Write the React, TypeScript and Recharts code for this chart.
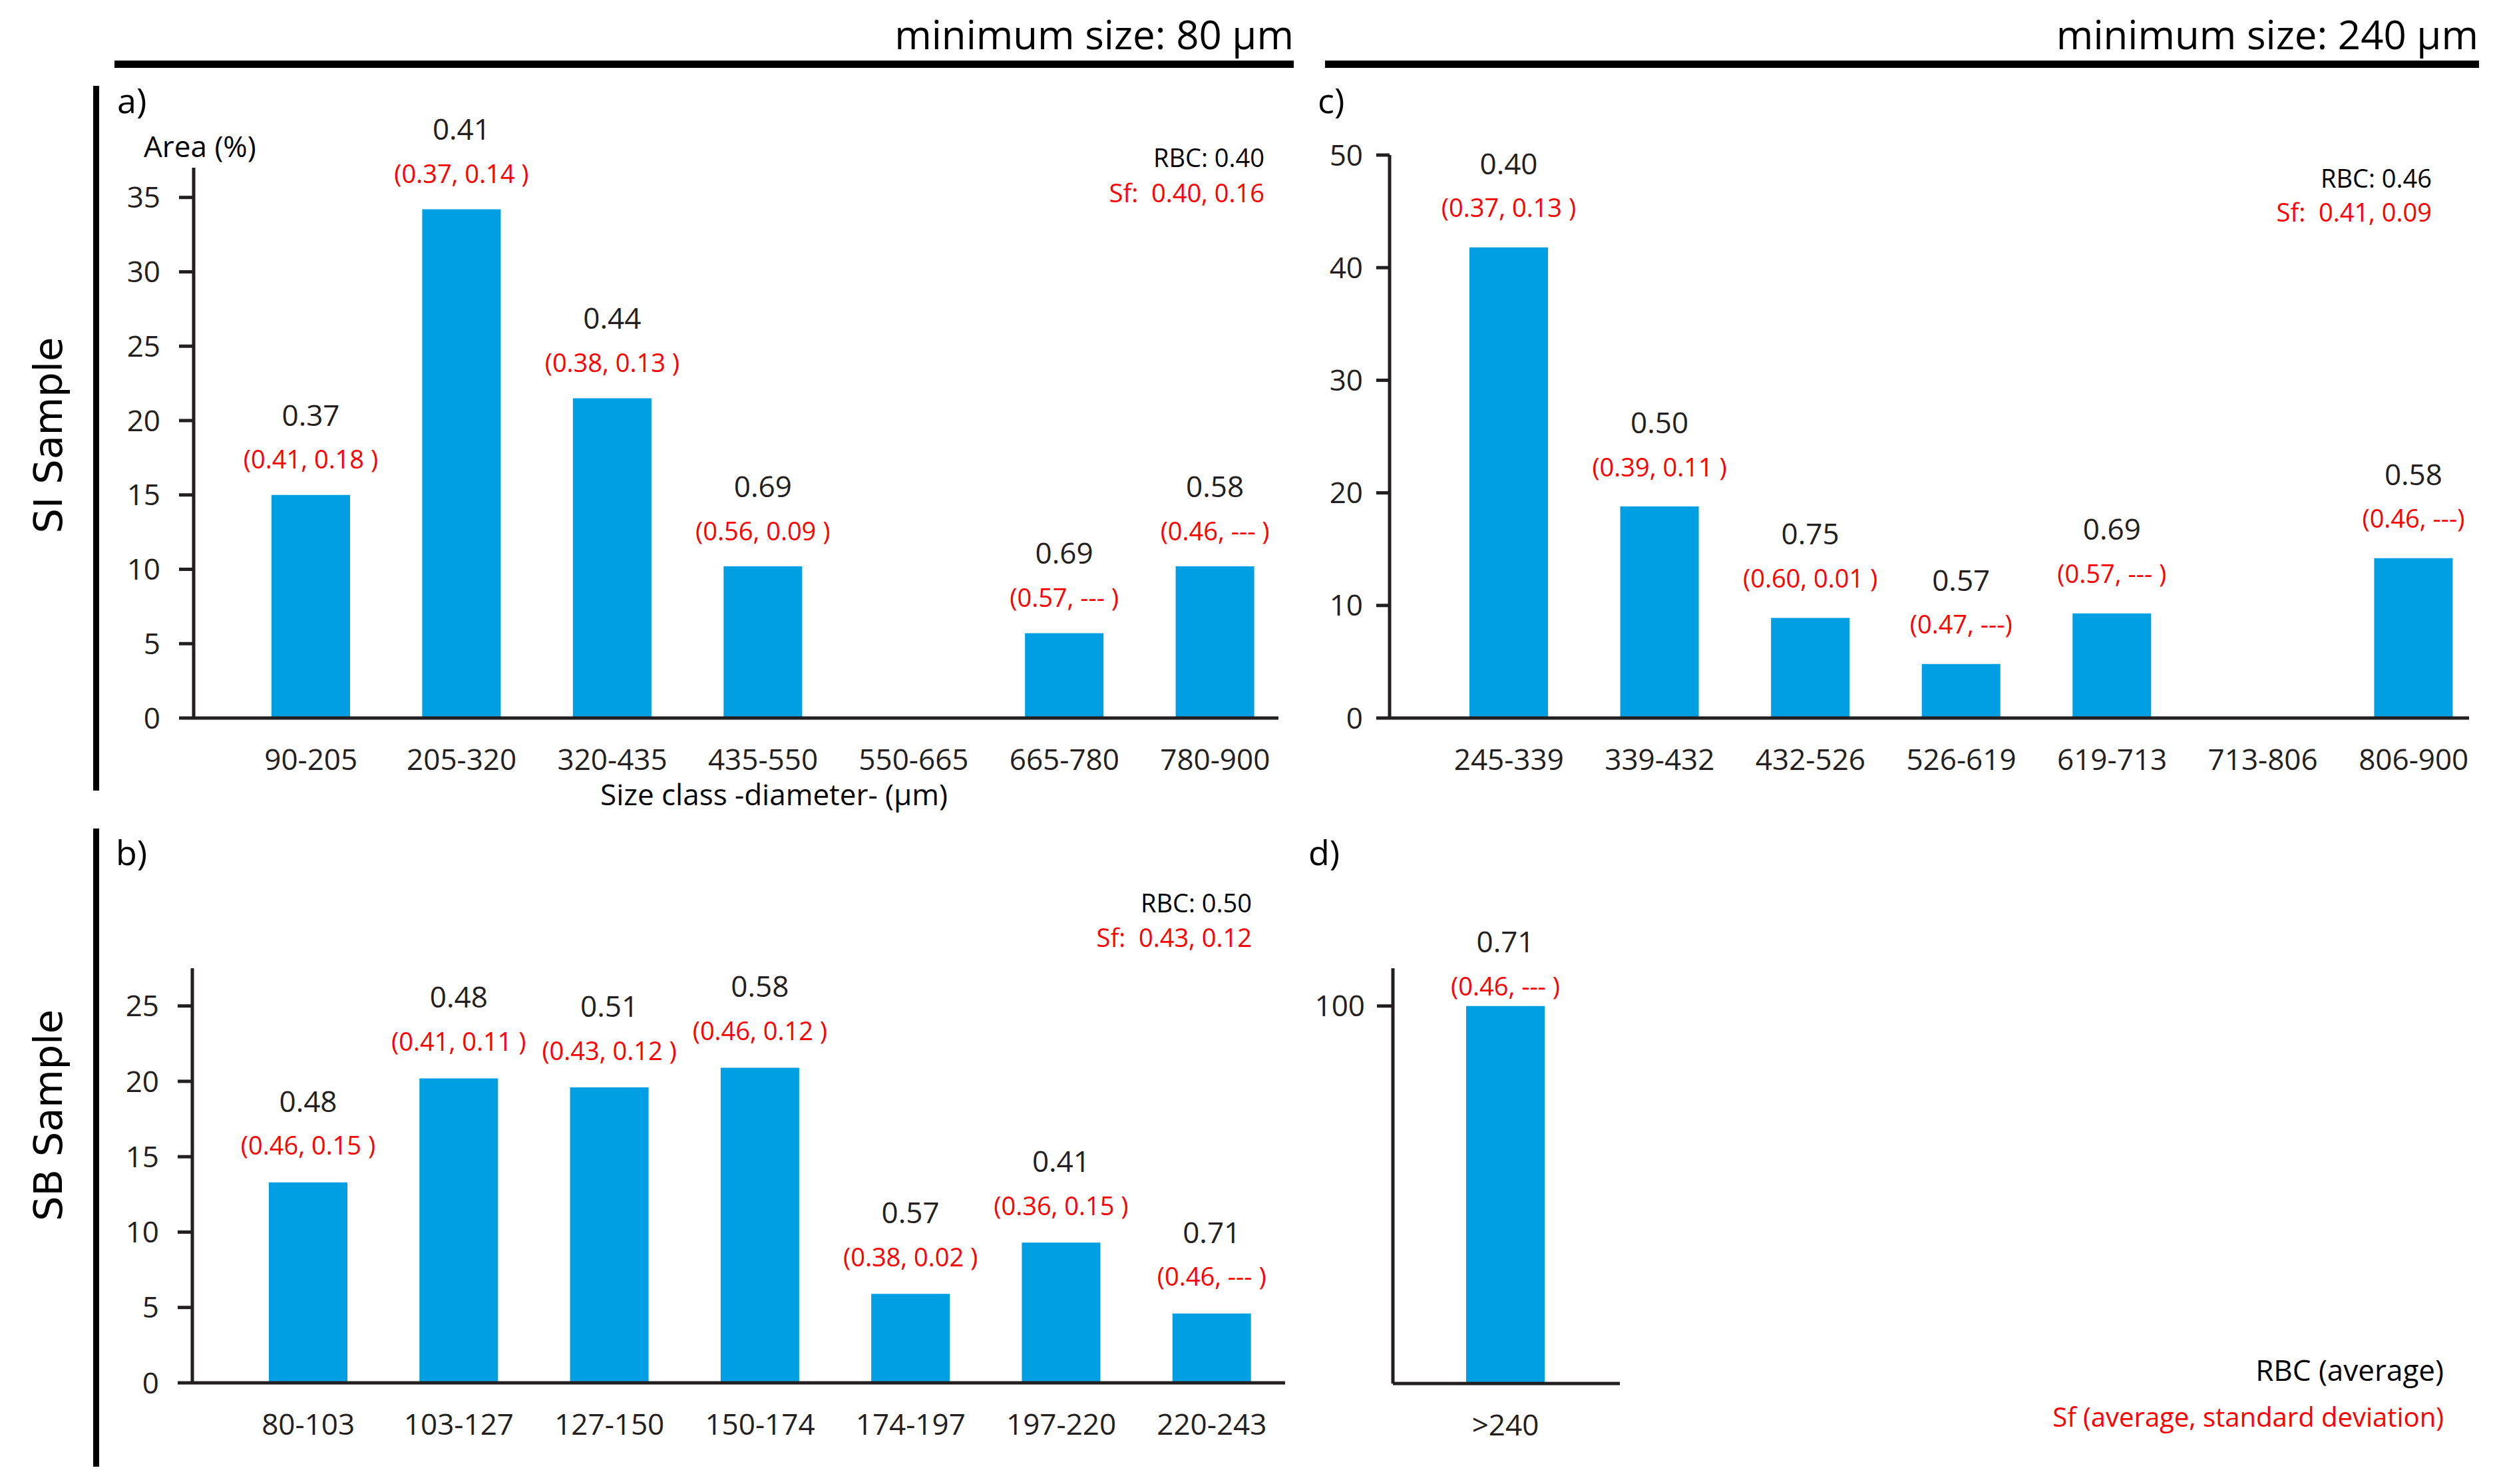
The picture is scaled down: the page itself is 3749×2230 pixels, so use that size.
import React from "react";
import { BarChart, Bar, XAxis, YAxis, LabelList } from "recharts";

const BLUE = "#009fe3";
const RED = "#ff0000";
const INK = "#231f20";
const FONT = "'Open Sans', 'Noto Sans', sans-serif";

// a) SI sample, minimum size 80 µm
const classesA = ["90-205", "205-320", "320-435", "435-550", "550-665", "665-780", "780-900"];
const areaA = [15.0, 34.2, 21.5, 10.2, 0, 5.7, 10.2];
const rbcA = ["0.37", "0.41", "0.44", "0.69", null, "0.69", "0.58"];
const sfA = ["(0.41, 0.18 )", "(0.37, 0.14 )", "(0.38, 0.13 )", "(0.56, 0.09 )", null, "(0.57, --- )", "(0.46, --- )"];
const ticksA = [0, 5, 10, 15, 20, 25, 30, 35];

// b) SB sample, minimum size 80 µm
const classesB = ["80-103", "103-127", "127-150", "150-174", "174-197", "197-220", "220-243"];
const areaB = [13.3, 20.2, 19.6, 20.9, 5.9, 9.3, 4.6];
const rbcB = ["0.48", "0.48", "0.51", "0.58", "0.57", "0.41", "0.71"];
const sfB = ["(0.46, 0.15 )", "(0.41, 0.11 )", "(0.43, 0.12 )", "(0.46, 0.12 )", "(0.38, 0.02 )", "(0.36, 0.15 )", "(0.46, --- )"];
const ticksB = [0, 5, 10, 15, 20, 25];

// c) SI sample, minimum size 240 µm
const classesC = ["245-339", "339-432", "432-526", "526-619", "619-713", "713-806", "806-900"];
const areaC = [41.8, 18.8, 8.9, 4.8, 9.3, 0, 14.2];
const rbcC = ["0.40", "0.50", "0.75", "0.57", "0.69", null, "0.58"];
const sfC = ["(0.37, 0.13 )", "(0.39, 0.11 )", "(0.60, 0.01 )", "(0.47, ---)", "(0.57, --- )", null, "(0.46, ---)"];
const ticksC = [0, 10, 20, 30, 40, 50];

// d) SB sample, minimum size 240 µm
const classesD = [">240"];
const areaD = [100];
const rbcD = ["0.71"];
const sfD = ["(0.46, --- )"];
const ticksD = [100];

type Row = { cls: string; area: number; rbc: string | null; sf: string | null };

function makeRows(classes: string[], area: number[], rbc: (string | null)[], sf: (string | null)[]): Row[] {
  return classes.map((c, i) => ({ cls: c, area: area[i], rbc: rbc[i], sf: sf[i] }));
}

// label text packed as "rbc|sf" so the label does not depend on the index
const labelKey = (r: Row) => (r.rbc ? `${r.rbc}|${r.sf}` : "");

type PanelProps = {
  rows: Row[];
  left: number;
  top: number;
  width: number;
  height: number;
  margin: { top: number; right: number; bottom: number; left: number };
  yWidth: number;
  domain: [number, number];
  ticks: number[];
  padding: { left: number; right: number };
  tickSize: number;
  tickMargin: number;
  redOff: number;
  blackOff: number;
};

function Panel(p: PanelProps) {
  const xTick = (t: any) => (
    <text x={t.x} y={t.y + 62} dy="0.36em" textAnchor="middle" fill={INK} fontSize={44} fontFamily={FONT}>
      {t.payload.value}
    </text>
  );

  const renderLabel = (lp: any) => {
    const v = typeof lp.value === "string" ? lp.value : "";
    if (!v) return null;
    const [rbc, sf] = v.split("|");
    const vb = lp.viewBox || lp;
    const x = Number(vb.x ?? lp.x);
    const y = Number(vb.y ?? lp.y);
    const w = Number(vb.width ?? lp.width);
    const cx = x + w / 2;
    return (
      <g>
        <text x={cx} y={y - p.blackOff} dy="0.36em" textAnchor="middle" fill={INK} fontSize={44} fontFamily={FONT}>
          {rbc}
        </text>
        <text x={cx} y={y - p.redOff} dy="0.36em" textAnchor="middle" fill={RED} fontSize={38} fontFamily={FONT} style={{ whiteSpace: "pre" }}>
          {sf}
        </text>
      </g>
    );
  };

  return (
    <div style={{ position: "absolute", left: p.left, top: p.top }}>
      <BarChart width={p.width} height={p.height} data={p.rows} margin={p.margin}>
        <XAxis
          dataKey="cls"
          interval={0}
          tick={xTick}
          tickLine={false}
          tickSize={0}
          tickMargin={0}
          height={80}
          padding={p.padding}
          axisLine={{ stroke: INK, strokeWidth: 5 }}
        />
        <YAxis
          type="number"
          domain={p.domain}
          ticks={p.ticks}
          interval={0}
          width={p.yWidth}
          allowDataOverflow
          tickSize={p.tickSize}
          tickMargin={p.tickMargin}
          tick={{ fill: INK, fontSize: 44, fontFamily: FONT }}
          tickLine={{ stroke: INK, strokeWidth: 5 }}
          axisLine={{ stroke: INK, strokeWidth: 5 }}
        />
        <Bar dataKey="area" fill={BLUE} barSize={118} isAnimationActive={false}>
          <LabelList dataKey={labelKey} content={renderLabel} />
        </Bar>
      </BarChart>
    </div>
  );
}

export default function App() {
  const rowsA = makeRows(classesA, areaA, rbcA, sfA);
  const rowsB = makeRows(classesB, areaB, rbcB, sfB);
  const rowsC = makeRows(classesC, areaC, rbcC, sfC);
  const rowsD = makeRows(classesD, areaD, rbcD, sfD);

  const pre = { whiteSpace: "pre" as const };

  return (
    <div style={{ position: "relative", width: 3749, height: 2230, background: "#fff", overflow: "hidden" }}>
      <style>{"body{margin:0}"}</style>

      <svg width={3749} height={2230} style={{ position: "absolute", left: 0, top: 0 }}>
        {/* headers */}
        <text x={1944} y={74} textAnchor="end" fontSize={60} fontFamily={FONT} fill="#000">minimum size: 80 µm</text>
        <rect x={172} y={91} width={1772} height={11} fill="#000" />
        <text x={3724} y={74} textAnchor="end" fontSize={60} fontFamily={FONT} fill="#000">minimum size: 240 µm</text>
        <rect x={1991} y={91} width={1734} height={11} fill="#000" />

        {/* row brackets */}
        <rect x={140} y={129} width={9} height={1059} fill="#000" />
        <rect x={140} y={1245} width={9} height={959} fill="#000" />
        <text x={72} y={654} transform="rotate(-90 72 654)" textAnchor="middle" dy="0.36em" fontSize={59} fontFamily="'DejaVu Sans', sans-serif" fill="#000">SI Sample</text>
        <text x={72} y={1676} transform="rotate(-90 72 1676)" textAnchor="middle" dy="0.36em" fontSize={59} fontFamily="'DejaVu Sans', sans-serif" fill="#000">SB Sample</text>

        {/* panel letters */}
        <text x={176} y={170} fontSize={52} fontFamily={FONT} fill="#000">a)</text>
        <text x={174} y={1300} fontSize={52} fontFamily={FONT} fill="#000">b)</text>
        <text x={1980} y={170} fontSize={52} fontFamily={FONT} fill="#000">c)</text>
        <text x={1966} y={1300} fontSize={52} fontFamily={FONT} fill="#000">d)</text>

        {/* axis captions */}
        <text x={216} y={236} fontSize={44} fontFamily={FONT} fill="#000">Area (%)</text>
        <text x={1163} y={1210} textAnchor="middle" fontSize={44} fontFamily={FONT} fill="#000">Size class -diameter- (µm)</text>

        {/* panel summaries */}
        <text x={1900} y={251} textAnchor="end" fontSize={38} fontFamily={FONT} fill="#000">RBC: 0.40</text>
        <text x={1900} y={304} textAnchor="end" fontSize={38} fontFamily={FONT} fill={RED} style={pre}>{"Sf:  0.40, 0.16"}</text>
        <text x={1881} y={1371} textAnchor="end" fontSize={38} fontFamily={FONT} fill="#000">RBC: 0.50</text>
        <text x={1881} y={1423} textAnchor="end" fontSize={38} fontFamily={FONT} fill={RED} style={pre}>{"Sf:  0.43, 0.12"}</text>
        <text x={3654} y={282} textAnchor="end" fontSize={38} fontFamily={FONT} fill="#000">RBC: 0.46</text>
        <text x={3654} y={333} textAnchor="end" fontSize={38} fontFamily={FONT} fill={RED} style={pre}>{"Sf:  0.41, 0.09"}</text>

        {/* key */}
        <text x={3672} y={2075} textAnchor="end" fontSize={44} fontFamily={FONT} fill="#000">RBC (average)</text>
        <text x={3672} y={2144} textAnchor="end" fontSize={40} fontFamily={FONT} fill={RED}>Sf (average, standard deviation)</text>
      </svg>

      <Panel
        rows={rowsA}
        left={0}
        top={0}
        width={1960}
        height={1180}
        margin={{ top: 252, right: 39, bottom: 21, left: 171 }}
        yWidth={120}
        domain={[0, 37]}
        ticks={ticksA}
        padding={{ left: 63, right: -18 }}
        tickSize={22}
        tickMargin={28}
        redOff={53}
        blackOff={120}
      />
      <Panel
        rows={rowsB}
        left={0}
        top={1200}
        width={1960}
        height={1030}
        margin={{ top: 255, right: 29, bottom: 72, left: 169 }}
        yWidth={120}
        domain={[0, 27.5]}
        ticks={ticksB}
        padding={{ left: 61, right: -3 }}
        tickSize={22}
        tickMargin={28}
        redOff={55}
        blackOff={122}
      />
      <Panel
        rows={rowsC}
        left={1960}
        top={0}
        width={1789}
        height={1180}
        margin={{ top: 233, right: 39, bottom: 21, left: 28 }}
        yWidth={100}
        domain={[0, 50]}
        ticks={ticksC}
        padding={{ left: 66, right: -30 }}
        tickSize={20}
        tickMargin={20}
        redOff={59}
        blackOff={126}
      />
      <Panel
        rows={rowsD}
        left={1960}
        top={1200}
        width={800}
        height={1030}
        margin={{ top: 255, right: 326, bottom: 71, left: 23 }}
        yWidth={110}
        domain={[0, 110]}
        ticks={ticksD}
        padding={{ left: 56, right: 59 }}
        tickSize={24}
        tickMargin={18}
        redOff={29}
        blackOff={97}
      />
    </div>
  );
}
